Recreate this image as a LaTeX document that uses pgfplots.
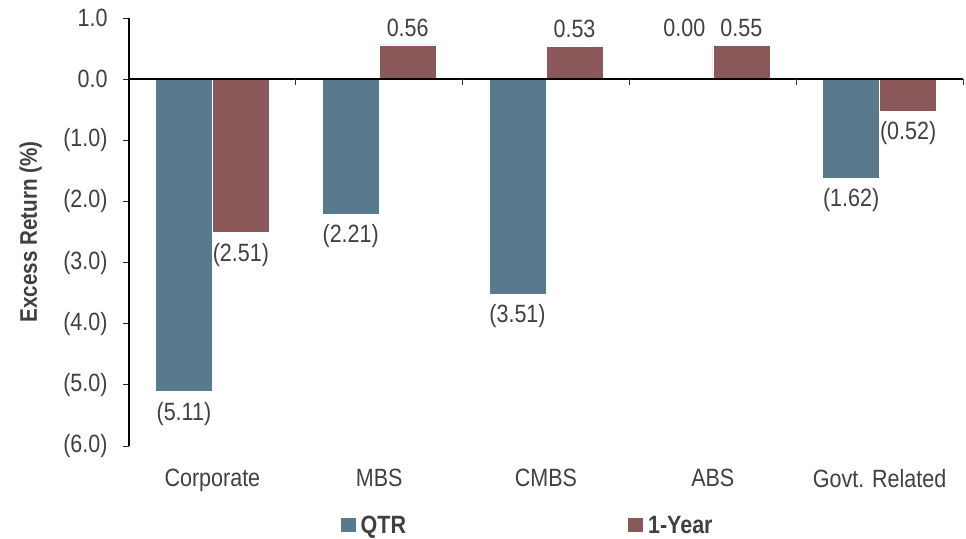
\documentclass[border=0pt]{standalone}
\usepackage{fontspec}
\setmainfont{Liberation Sans}[FakeStretch=0.86]
\usepackage{pgfplots}
\usepackage{pgfplotstable}
\pgfplotsset{compat=1.18}
\definecolor{qtr}{RGB}{88,122,140}
\definecolor{yr}{RGB}{138,88,88}
\definecolor{txt}{RGB}{64,64,64}
\pgfplotstableread{
x y lab dy an
0 -5.11 (5.11) -7 1
1 -2.21 (2.21) -7 1
2 -3.51 (3.51) -7 1
3 0.00 0.00 39 0
4 -1.62 (1.62) -7 1
}\qtrdata
\pgfplotstableread{
x y lab dy an
0 -2.51 (2.51) -7 1
1 0.56 0.56 5 0
2 0.53 0.53 5 0
3 0.55 0.55 5 0
4 -0.52 (0.52) -7 1
}\yrdata
\begin{document}
\begin{tikzpicture}[x=1pt,y=1pt]
\useasboundingbox (0,0) rectangle (966,538);
\begin{axis}[
  at={(129pt,92pt)}, anchor=south west,
  scale only axis, width=834pt, height=428pt,
  xmin=-0.5, xmax=4.5, ymin=-6, ymax=1,
  clip=false,
  ybar=0pt, bar width=57pt,
  axis x line*=bottom, axis y line*=left,
  x axis line style={draw=none},
  y axis line style={black, line width=1.5pt},
  xtick={0,...,4},
  xticklabels={Corporate,MBS,CMBS,ABS,Govt. Related},
  x tick style={draw=none},
  ytick={-6,...,1},
  yticklabels={(6.0),(5.0),(4.0),(3.0),(2.0),(1.0),0.0,1.0},
  y tick style={black!85, line width=0.9pt},
  tick align=outside, major tick length=6pt,
  ticklabel style={font=\fontsize{25}{30}\selectfont, text=txt},
  xticklabel style={yshift=-14pt},
  yticklabel style={xshift=-12pt},
  ylabel={Excess Return (\%)},
  ylabel style={font=\bfseries\fontsize{24}{28}\selectfont, text=txt,
    at={(axis description cs:-0.118,0.5)}, anchor=center},
  legend columns=2,
  legend style={at={(0.478,-0.185)}, anchor=center, draw=none, fill=none,
    font=\bfseries\fontsize{25}{30}\selectfont, text=txt,
    /tikz/every even column/.append style={column sep=220pt}},
  legend image code/.code={\fill[#1,draw=none] (0pt,-7pt) rectangle (15pt,7pt);},
  nodes near coords,
  point meta=explicit symbolic,
  visualization depends on={\thisrow{dy}\as\dy},
  visualization depends on={\thisrow{an}\as\an},
  nodes near coords style={font=\fontsize{25}{30}\selectfont, text=txt,
    anchor=\ifdim\an pt>0.5pt north\else south\fi, yshift=\dy pt},
]
\addplot[fill=qtr, draw=white, line width=0.5pt] table[x=x,y=y,meta=lab] {\qtrdata};
\addlegendentry{\hspace{3pt}QTR}
\addplot[fill=yr, draw=white, line width=0.5pt] table[x=x,y=y,meta=lab] {\yrdata};
\addlegendentry{\hspace{3pt}1-Year}
\draw[black, line width=1.5pt] (axis cs:-0.5,0) -- (axis cs:4.5,0);
\pgfplotsinvokeforeach{0.5,1.5,2.5,3.5,4.5}{\draw[black!80, line width=0.8pt] (axis cs:#1,0) -- ++(0pt,-6pt);}
\end{axis}
\end{tikzpicture}
\end{document}
